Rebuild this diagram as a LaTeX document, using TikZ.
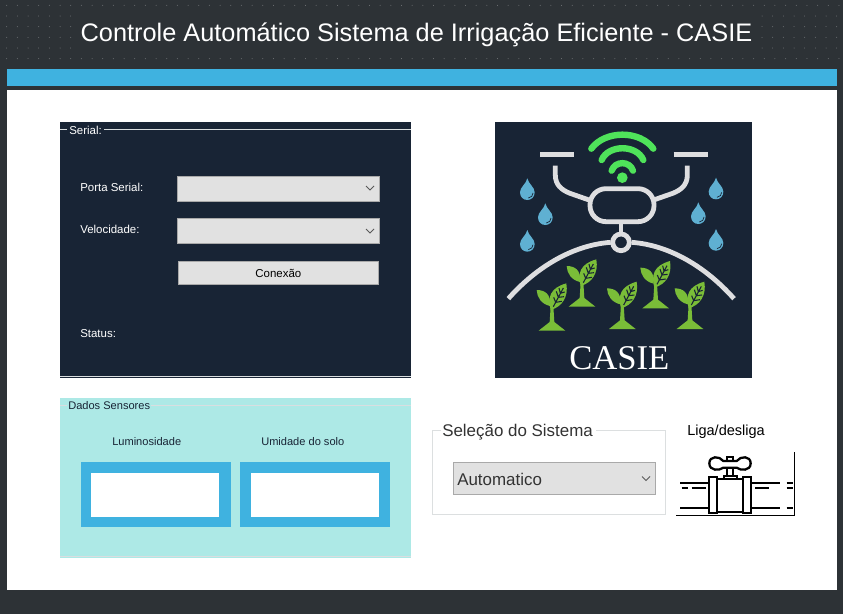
\documentclass[tikz,border=0pt]{standalone}
\usepackage{fontspec}
\setmainfont{Liberation Sans}
\newfontfamily\logofont{Liberation Serif}
\definecolor{casiedark}{HTML}{2D3236}
\definecolor{casieblue}{HTML}{3FB2E0}
\definecolor{casienavy}{HTML}{182435}
\definecolor{casieaqua}{HTML}{ADE9E6}
\definecolor{casiecombo}{HTML}{E1E1E1}
\definecolor{casierule}{HTML}{D9DEE0}
\definecolor{casieframe}{HTML}{DCDFE0}
\definecolor{casiegreen}{HTML}{4FE35A}
\definecolor{casieleaf}{HTML}{7ABD38}
\definecolor{casiedrop}{HTML}{5FB0D2}
\definecolor{casiepipe}{HTML}{DEDEE0}
\tikzset{
  uilabel/.style={font=\fontsize{8.6pt}{10pt}\selectfont, inner sep=0pt, anchor=west},
  whitelabel/.style={uilabel, text=white},
  darklabel/.style={uilabel, text=casienavy, font=\fontsize{8.3pt}{10pt}\selectfont},
  combobox/.style={fill=casiecombo, draw=casiecombo!75!black, line width=0.5pt, inner sep=0pt, anchor=north west},
  sensorouter/.style={fill=casieblue, minimum width=112.5pt, minimum height=48.5pt, inner sep=0pt, anchor=north west},
  sensorinner/.style={fill=white, minimum width=96pt, minimum height=32.8pt, inner sep=0pt, anchor=north west},
  logopipe/.style={draw=casiepipe, line width=3.6pt},
  wifiarc/.style={draw=casiegreen, line width=4.8pt, line cap=round},
  valveline/.style={draw=black, line width=1.7pt}
}
\begin{document}
\begin{tikzpicture}[
  x=0.75pt,
  y=-0.75pt
]
  \def\chevron{-- ++(4,4) -- ++(4,-4)}
  \def\dropshape{
    \path[fill=casiedrop] (0,0) .. controls (4,18) and (22,26) .. (22,42)
      .. controls (22,56) and (12,65) .. (0,65) .. controls (-12,65) and (-22,56) .. (-22,42)
      .. controls (-22,26) and (-4,18) .. (0,0);
    \draw[casienavy, line width=0.5pt] (3,59) .. controls (12,58) and (17,51) .. (17,44);
  }
  \def\plantshape{
    \path[fill=casieleaf] (-40,0) -- (-7,-26) -- (-3,-90) -- (3,-90) -- (7,-26) -- (40,0) -- cycle;
    \path[fill=casieleaf] (-4,-62) .. controls (-14,-100) and (-6,-128) .. (43,-142)
      .. controls (50,-100) and (30,-72) .. (-4,-62) -- cycle;
    \path[fill=casieleaf] (-6,-74) .. controls (-32,-80) and (-45,-100) .. (-46,-122)
      .. controls (-22,-122) and (-2,-110) .. (-6,-74) -- cycle;
    \draw[casienavy, line width=0.8pt] (4,-72) -- (34,-128)
      (11,-85) -- (5,-100) (19,-100) -- (13,-118) (25,-112) -- (21,-128)
      (11,-85) -- (30,-88) (19,-100) -- (36,-102) (25,-112) -- (38,-116);
  }

  \useasboundingbox (0,0) rectangle (843,614);
  \fill[casiedark] (0,0) rectangle (843,614);

  % Header dots
  \foreach \row in {5.3,58.7} {
    \foreach \col in {0,...,78} {
      \fill[white, opacity=0.35] ({6.7+10.67*\col},\row) circle (0.5);
    }
  }
  \foreach \row in {16,26.7,37.3,48} {
    \foreach \col in {0,...,6} {
      \fill[white, opacity=0.35] ({6.7+10.67*\col},\row) circle (0.5);
    }
    \foreach \col in {0,...,7} {
      \fill[white, opacity=0.35] ({762+10.67*\col},\row) circle (0.5);
    }
  }

  \node[text=white, font=\fontsize{19pt}{21pt}\selectfont, inner sep=0pt] (title) at (416.5,34.5) {Controle Automático Sistema de Irrigação Eficiente - CASIE};

  % Blue band and white page
  \fill[casieblue] (6.7,69.3) rectangle (836.7,86);
  \fill[white] (6.7,90.3) rectangle (836.7,590);

  % Serial panel
  \fill[casienavy] (60,122) rectangle (411,378);
  \draw[casierule, line width=0.7pt] (104,129) -- (411,129);
  \draw[casierule, line width=0.7pt] (60,129) -- (67,129);
  \draw[casierule, line width=1pt] (60,376.8) -- (411,376.8);
  \node[whitelabel] (seriallabel) at (69,130) {Serial:};
  \node[whitelabel] (portlabel) at (80,187.5) {Porta Serial:};
  \node[whitelabel] (speedlabel) at (80,229.5) {Velocidade:};
  \node[whitelabel] (statuslabel) at (80,334) {Status:};
  \node[combobox, minimum width=151.5pt, minimum height=19pt] (portcombo) at (177,175.5) {};
  \node[combobox, minimum width=151.5pt, minimum height=19pt] (speedcombo) at (177,218) {};
  \node[combobox, minimum width=150pt, minimum height=17.5pt, font=\fontsize{8.6pt}{10pt}\selectfont] (connectbutton) at (178,261) {Conexão};
  \draw[black!65, line width=0.6pt] (366,186) \chevron;
  \draw[black!65, line width=0.6pt] (366,229) \chevron;

  % Logo
  \fill[casienavy] (495,122) rectangle (751.5,378);
  \begin{scope}[shift={(480,110)}, x=0.25pt, y=-0.25pt]
    % wifi
    \draw[wifiarc] (334,116) .. controls (375,60) and (480,60) .. (520,116);
    \draw[wifiarc] (365,150) .. controls (385,103) and (470,103) .. (490,150);
    \draw[wifiarc] (395,182) .. controls (405,152) and (449,152) .. (459,182);
    \fill[casiegreen] (427,203) circle (16);

    % pipes
    \draw[logopipe, line width=3.75pt] (180,134) -- (281,134);
    \draw[logopipe, line width=3.75pt] (581,134) -- (683,134);
    \draw[logopipe] (226,167) -- (226,195) .. controls (226,225) and (245,240) .. (270,250) -- (333,272);
    \draw[logopipe] (622,167) -- (622,195) .. controls (622,225) and (603,240) .. (578,250) -- (515,272);
    \draw[logopipe, rounded corners=12pt] (330,236) rectangle (522,335);
    \draw[logopipe] (423,338) -- (423,372);
    \draw[logopipe] (423,397) circle (25);
    \draw[logopipe] (85,566) .. controls (170,470) and (280,405) .. (392,397);
    \draw[logopipe] (455,397) .. controls (567,405) and (677,470) .. (762,566);

    % Drops
    \begin{scope}[shift={(142,205)}] \dropshape \end{scope}
    \begin{scope}[shift={(196,280)}] \dropshape \end{scope}
    \begin{scope}[shift={(142,360)}] \dropshape \end{scope}
    \begin{scope}[shift={(708,203)}] \dropshape \end{scope}
    \begin{scope}[shift={(655,277)}] \dropshape \end{scope}
    \begin{scope}[shift={(708,357)}] \dropshape \end{scope}

    % Plants
    \begin{scope}[shift={(216,662)}] \plantshape \end{scope}
    \begin{scope}[shift={(306,590)}] \plantshape \end{scope}
    \begin{scope}[shift={(427,657)}] \plantshape \end{scope}
    \begin{scope}[shift={(527,595)}] \plantshape \end{scope}
    \begin{scope}[shift={(630,657)}] \plantshape \end{scope}

    \node[text=white, font=\logofont\fontsize{26pt}{28pt}\selectfont, inner sep=0pt] (logoname) at (418,745) {CASIE};
  \end{scope}

  % Sensor panel
  \fill[casieaqua] (60,398.3) rectangle (411,558.3);
  \draw[casierule, line width=0.7pt] (151,405.3) -- (411,405.3);
  \draw[casierule, line width=0.7pt] (60,405.3) -- (67,405.3);
  \draw[casierule, line width=0.7pt] (60,556.5) -- (411,556.5);
  \node[darklabel] (sensorlabel) at (68,406) {Dados Sensores};
  \node[darklabel] (lightlabel) at (112,442) {Luminosidade};
  \node[darklabel] (soillabel) at (261,442) {Umidade do solo};
  \node[sensorouter] (lightouter) at (81,462) {};
  \node[sensorouter] (soilouter) at (240,462) {};
  \node[sensorinner] (lightinner) at (91,472.6) {};
  \node[sensorinner] (soilinner) at (251,472.6) {};

  % System selection
  \draw[casieframe, line width=0.7pt] (441,430.7) -- (432.3,430.7) -- (432.3,514.7) -- (665.7,514.7) -- (665.7,430.7) -- (596,430.7);
  \node[uilabel, text=black!80, font=\fontsize{12.7pt}{14pt}\selectfont] (selectlabel) at (442,432) {Seleção do Sistema};
  \node[combobox, minimum width=151.5pt, minimum height=24pt] (modecombo) at (453,462) {};
  \node[uilabel, text=black!80, font=\fontsize{12.7pt}{14pt}\selectfont] (modelabel) at (457,479.5) {Automatico};
  \draw[black!65, line width=0.6pt] (642,476.5) \chevron;
  \node[uilabel, text=black, font=\fontsize{10.9pt}{12pt}\selectfont] (valvelabel) at (687,432) {Liga/desliga};

  % Valve
  \begin{scope}[shift={(670,445)}, x=0.25pt, y=-0.25pt]
    \draw[black, line width=0.5pt] (18,210) -- (374,210) -- (374,20);
    \draw[valveline] (30,113) -- (118,113) (243,113) -- (330,113) (350,113) -- (368,113);
    \draw[valveline] (30,190) -- (118,190) (243,190) -- (330,190) (350,190) -- (368,190);
    \draw[valveline] (35,128) -- (55,128) (65,128) -- (108,128) (255,128) -- (298,128) (350,128) -- (368,128);
    \draw[valveline] (118,97) rectangle (140,205);
    \draw[valveline] (220,97) rectangle (243,205);
    \draw[valveline] (140,103) -- (220,103) (140,200) -- (220,200);
    \draw[valveline] (162,103) -- (162,92) -- (200,92) -- (200,103);
    \draw[valveline] (170,92) -- (170,70) (188,92) -- (188,70);
    \draw[valveline] (172,45) -- (172,35) -- (188,35) -- (188,45);
    \draw[valveline] (160,48) -- (200,48) .. controls (212,32) and (242,32) .. (242,55)
      .. controls (242,78) and (212,78) .. (200,68) -- (160,68)
      .. controls (148,78) and (118,78) .. (118,55) .. controls (118,32) and (148,32) .. (160,48) -- cycle;
  \end{scope}
\end{tikzpicture}
\end{document}
